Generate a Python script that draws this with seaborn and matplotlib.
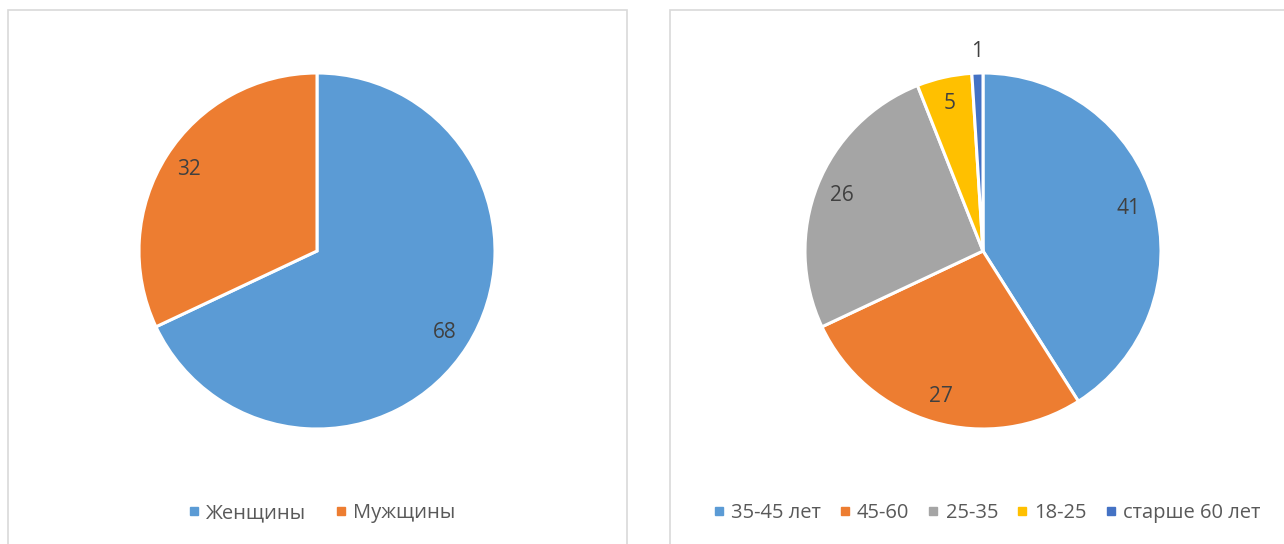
import numpy as np
import matplotlib
matplotlib.use("Agg")
import matplotlib.pyplot as plt
from matplotlib.lines import Line2D
from matplotlib.patches import Rectangle
import seaborn as sns

gender_labels = ["Женщины", "Мужщины"]
gender_values = [68, 32]

age_labels = ["35-45 лет", "45-60", "25-35", "18-25", "старше 60 лет"]
age_values = [41, 27, 26, 5, 1]

palette = ["#5B9BD5", "#ED7D31", "#A5A5A5", "#FFC000", "#4472C4"]

sns.set_theme(style="white")
plt.rcParams['font.family'] = ['Open Sans', 'DejaVu Sans']

W, H = 1284, 544
fig = plt.figure(figsize=(W / 100, H / 100), dpi=100)

# рамки панелей
for x0, x1 in [(8, 627), (670, 1290)]:
    fig.patches.append(Rectangle((x0 / W, -0.1), (x1 - x0) / W, 1.1 - 10 / H,
                                 transform=fig.transFigure, fill=False,
                                 edgecolor="#D9D9D9", linewidth=1.2))


def draw_pie(cx, cy, r, values, labels, colors, colspace, legx):
    ax = fig.add_axes([(cx - r) / W, 1 - (cy + r) / H, 2 * r / W, 2 * r / H])
    wedges, _ = ax.pie(values, colors=colors, startangle=90, counterclock=False,
                       wedgeprops=dict(edgecolor="white", linewidth=2.2))
    ax.set_xlim(-1, 1)
    ax.set_ylim(-1, 1)
    ax.set_aspect("equal")
    ax.axis("off")
    for w, v in zip(wedges, values):
        ang = np.deg2rad((w.theta1 + w.theta2) / 2)
        d = 0.85 if v >= 3 else 1.12
        ax.text(d * np.cos(ang), d * np.sin(ang), str(v), ha="center", va="center",
                fontsize=15, color="#404040")
    handles = [Line2D([], [], marker="s", linestyle="", markersize=6,
                      markerfacecolor=c, markeredgecolor=c) for c in colors]
    fig.legend(handles, labels, loc="center", bbox_to_anchor=(legx / W, 1 - 513 / H),
               ncol=len(labels), frameon=False, fontsize=14.5, labelcolor="#595959",
               handletextpad=0.15, columnspacing=colspace, handlelength=0.9)


draw_pie(317, 251, 178, gender_values, gender_labels, palette[:2], 1.3, 320)
draw_pie(983, 251, 178, age_values, age_labels, palette, 0.75, 985)

fig.savefig("out.png", dpi=100)
